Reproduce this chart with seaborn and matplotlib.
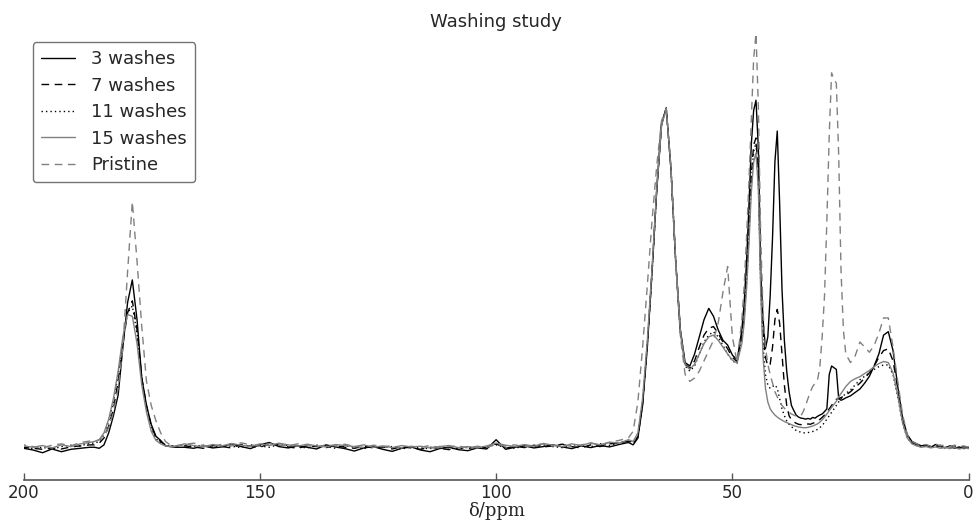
import numpy as np
import pandas as pd
import seaborn as sns
import matplotlib.pyplot as plt

# chemical shift grid (ppm)
ppm = [200, 198, 196, 194, 192, 190, 188, 186,
       185, 184, 183, 182, 181, 180, 179, 178, 177, 176, 175, 174, 173, 172, 171, 170, 169, 168,
       166, 164, 162, 160, 158, 156, 154, 152, 150, 148, 146, 144, 142, 140, 138, 136, 134, 132,
       130, 128, 126, 124, 122, 120, 118, 116, 114, 112, 110, 108, 106, 104, 102, 100, 98, 96,
       94, 92, 90, 88, 86, 84, 82, 80, 78, 76, 74, 72,
       71, 70, 69, 68, 67, 66, 65, 64, 63, 62, 61, 60, 59, 58, 57, 56, 55, 54, 53, 52, 51, 50, 49,
       48, 47.5, 47, 46.5, 46, 45.5, 45, 44.5, 44, 43.5, 43, 42.5, 42, 41.5, 41, 40.5, 40, 39.5,
       39, 38.5, 38, 37.5, 37, 36.5, 36, 35.5, 35, 34.5, 34, 33.5, 33, 32.5, 32, 31.5, 31, 30.5,
       30, 29.5, 29, 28.5, 28, 27.5, 27, 26.5, 26,
       25, 24, 23, 22, 21, 20, 19, 18, 17, 16, 15, 14, 13, 12, 11, 10, 9, 8, 7, 6, 5, 4, 3, 2, 1, 0]

# intensities (arbitrary units, CH2O peak ~ 100)
washes_3 = [0.5, 0.0, -0.8, 0.3, -0.5, 0.2, 0.5, 0.8,
            0.8, 0.5, 1.5, 5.0, 10.0, 16.0, 30.0, 43.0, 49.6, 38.0, 21.0, 13.0, 7.5, 4.0, 2.8, 1.2, 1.0, 0.8,
            0.8, 0.5, 1.2, 0.6, 0.9, 1.8, 1.0, 0.4, 1.5, 2.2, 1.0, 0.6, 1.2, 0.8, 0.3, 1.5, 0.9, 0.4, -0.3, 0.6,
            1.0, 0.2, -0.4, 0.5, 0.9, 0.0, -0.5, 0.4, 0.8, 0.1, -0.2, 0.6, 0.3, 3.0, 0.2, 0.8, 1.2, 0.6, 1.0, 1.5,
            0.9, 0.4, 1.2, 0.7, 1.3, 0.9, 1.6, 2.2,
            1.5, 3.5, 13, 30, 52, 76, 95, 99.8, 82, 55, 35, 25.5, 24.5, 28, 33, 38, 41.3, 39, 35, 32, 30.6, 27.7, 26.2,
            35, 43, 55, 71, 89, 99, 102, 88, 52, 38, 29.6, 33, 45, 62, 84, 93, 72, 47, 32, 23,
            17, 13, 11.5, 10.2, 9.6, 9.3, 9.2, 9.0, 9.2, 9.0, 9.5, 9.3, 9.8, 10.2, 10.5, 11.2, 12.0, 22, 24.5, 24,
            23.5, 15, 14.5, 14.8, 15.2,
            15.8, 16.8, 17.8, 19.5, 21.5, 24.5, 28, 33.5, 34.5, 29, 18.5, 9.5, 4.5, 2.5, 1.8, 1.2, 1.5, 0.8, 1.6, 1.0,
            0.6, 1.2, 0.5, 0.9, 0.4, 0.8]

washes_7 = [0.8, 0.5, 0.2, 0.6, 0.3, 0.9, 1.2, 1.5,
            1.5, 2.0, 3.5, 7.0, 12.0, 20.0, 31.0, 40.0, 43.5, 35.0, 21.0, 13.0, 7.0, 3.8, 2.4, 1.5, 1.2, 1.0,
            1.2, 0.9, 0.5, 1.3, 1.0, 0.6, 1.6, 1.1, 0.8, 1.8, 1.4, 0.9, 0.5, 1.2, 1.0, 0.7, 1.3, 0.8, 0.5, 1.1,
            0.6, 0.9, 0.3, 1.0, 0.6, 0.2, 0.8, 0.5, 0.1, 0.7, 0.4, 1.0, 0.6, 1.8, 0.5, 1.1, 0.7, 1.4, 0.9, 1.2,
            1.7, 1.0, 0.6, 1.5, 1.0, 1.8, 2.0, 2.6,
            1.8, 3.8, 13.5, 30.5, 52, 76, 95, 99.6, 82, 55, 34.5, 25, 23.8, 26, 30, 33.5, 35.5, 36, 34, 31.5, 29.5, 27, 25.8,
            33, 40, 50, 64, 80, 89, 91, 80, 50, 34, 27, 24.5, 25, 30, 38, 41, 37, 28, 19, 13,
            10, 8.8, 8.2, 7.8, 7.5, 7.4, 7.3, 7.4, 7.6, 7.5, 7.8, 8.0, 8.4, 8.9, 9.5, 10.2, 11, 12, 13, 14,
            14.8, 15, 15.3, 15.6, 16,
            17, 18.3, 19.5, 21, 22.5, 24.5, 27, 29, 29.5, 26, 18, 9.5, 4.0, 2.2, 1.5, 1.0, 1.3, 1.1, 0.9, 1.4,
            0.8, 1.0, 1.3, 0.7, 1.0, 0.6]

washes_11 = [1.0, 0.4, 0.8, 0.2, 1.0, 1.4, 1.2, 2.0,
             2.0, 2.5, 4.5, 8.5, 14.0, 22.0, 32.0, 40.0, 42.0, 34.0, 21.0, 12.0, 6.5, 3.3, 2.0, 1.5, 1.0, 1.2,
             1.5, 1.0, 1.4, 0.8, 1.3, 1.1, 0.7, 1.5, 1.2, 0.8, 1.6, 1.3, 1.0, 0.6, 1.4, 1.1, 0.5, 1.2, 0.9, 0.4,
             1.1, 0.7, 1.0, 0.3, 0.9, 0.6, 0.4, 1.0, 0.6, 0.3, 0.9, 0.5, 1.1, 1.5, 0.8, 0.5, 1.2, 0.8, 1.5, 1.0,
             0.7, 1.6, 1.2, 0.9, 1.8, 1.3, 2.1, 2.8,
             2.0, 4.2, 14, 31, 52, 76, 94.5, 99.5, 82, 55, 34, 24.5, 23, 24.5, 28, 31.5, 33.5, 34.5, 33, 30.5, 28, 26, 25.2,
             32, 39, 49, 62, 78, 87, 89.5, 78, 48, 30, 22, 19, 18, 18.5, 19, 18, 15, 12, 10, 8.5,
             7.5, 6.8, 6.2, 5.7, 5.4, 5.2, 5.0, 5.0, 5.1, 5.2, 5.4, 5.6, 6.0, 6.5, 7.2, 8.0, 9.0, 10.0, 11.0, 12.0,
             13.0, 14.0, 15.0, 15.8, 16.5,
             17.5, 19, 20.5, 21.5, 22.5, 23.5, 24.3, 24.8, 24.8, 22, 15.5, 8, 3.5, 2, 1.4, 0.9, 1.2, 0.7, 1.0, 0.6,
             0.9, 0.5, 0.8, 0.5, 0.7, 0.5]

washes_15 = [1.2, 0.8, 1.3, 0.6, 1.5, 1.0, 1.8, 2.2,
             2.5, 3.0, 5.0, 9.0, 15.0, 23.0, 33.0, 39.5, 39.0, 31.0, 19.0, 11.0, 5.5, 2.8, 1.8, 1.2, 1.0, 1.0,
             1.8, 1.3, 0.9, 1.6, 1.2, 1.9, 1.4, 1.0, 1.8, 1.3, 2.0, 1.5, 1.1, 1.7, 1.2, 0.9, 1.6, 1.3, 1.0, 1.5,
             0.8, 1.2, 0.7, 1.3, 0.9, 1.1, 0.6, 1.0, 1.3, 0.7, 1.0, 0.6, 1.2, 2.0, 1.4, 1.0, 1.6, 1.1, 1.9, 1.4,
             1.0, 1.8, 1.3, 2.1, 1.5, 2.3, 2.0, 3.0,
             2.5, 5, 15, 32, 53, 76.5, 94.5, 99.5, 82.5, 55.5, 34.5, 24.8, 23.5, 25, 28, 31, 33, 33.5, 32, 30, 28, 26.2, 25.4,
             31, 37, 47, 60, 75, 84, 86.6, 76, 46, 27, 18, 14, 12, 11, 10.2, 9.6, 9.1, 8.7, 8.3, 8.0,
             7.7, 7.4, 7.1, 6.9, 6.7, 6.6, 6.5, 6.5, 6.6, 6.8, 7.0, 7.3, 7.6, 8.1, 8.8, 9.6, 10.5, 11.5, 12.4, 13.3,
             14.2, 15.5, 16.5, 17.5, 18.5,
             20, 20.8, 21.4, 22.3, 23.2, 24.3, 25.2, 25.8, 25.5, 22.5, 16, 8, 3.5, 1.8, 1.2, 0.8, 1.0, 0.6, 0.9, 0.5,
             0.8, 0.4, 0.7, 0.3, 0.6, 0.4]

pristine = [1.5, 1.0, 0.6, 1.4, 1.8, 1.2, 2.2, 2.6,
            2.5, 3.0, 4.0, 6.5, 11.0, 18.0, 30.0, 52.0, 72.4, 55.0, 36.0, 20.0, 13.0, 8.5, 5.0, 2.5, 1.5, 1.2,
            1.6, 2.0, 1.3, 1.0, 1.7, 1.2, 2.1, 1.5, 1.1, 1.9, 1.4, 1.2, 1.8, 1.3, 0.9, 1.5, 1.2, 1.7, 1.0, 0.8,
            1.4, 1.0, 1.2, 0.6, 1.1, 0.8, 1.3, 0.7, 1.0, 1.2, 0.6, 1.1, 0.8, 1.6, 1.2, 1.5, 0.9, 1.4, 1.8, 1.2,
            1.6, 1.0, 1.5, 2.0, 1.4, 2.2, 2.8, 3.5,
            5.5, 14, 30, 48, 67, 83, 96, 99.6, 82, 55, 33, 22, 20, 21, 23, 26, 29, 32, 37, 46, 53.5, 33, 25.5,
            38, 48, 62, 78, 96, 114, 121.5, 100, 62, 40, 30, 25, 22, 19.5, 17, 15.5, 14, 13, 12.2, 11.5,
            11, 10.5, 10.2, 9.9, 9.7, 10, 11.2, 13, 15, 17, 18.5, 19.5, 20.3, 24, 33, 45, 67, 92, 110, 108,
            107, 86, 52, 35, 28,
            25.5, 27.5, 31.5, 30, 28.5, 30.5, 34, 38.5, 38.5, 30, 20, 10.5, 4.5, 2.5, 1.8, 1.3, 1.6, 1.1, 1.8, 1.2,
            1.5, 0.9, 1.4, 1.0, 1.2, 0.8]

labels = ['3 washes', '7 washes', '11 washes', '15 washes', 'Pristine']
colors = ['black', 'black', 'black', '0.5', '0.5']
styles = ['-', '--', ':', '-', '--']

sns.set_theme(style='white')
plt.rcParams['font.family'] = ['DejaVu Sans']
plt.rcParams['lines.scale_dashes'] = False
plt.rcParams['lines.dashed_pattern'] = [5.5, 4.0]
plt.rcParams['lines.dotted_pattern'] = [1.0, 2.2]

fig = plt.figure(figsize=(9.73, 5.23), dpi=100)
ax = fig.add_axes([0.0243, 0.0822, 0.9712, 0.8547])

for lab, vals, col, ls in zip(labels, [washes_3, washes_7, washes_11, washes_15, pristine], colors, styles):
    sns.lineplot(x=ppm, y=vals, ax=ax, color=col, linestyle=ls, lw=1.0, label=lab)

ax.set_xlim(200, 0)
ax.set_ylim(-8.75, 121.6)
ax.set_yticks([])
ax.set_xticks([200, 150, 100, 50, 0])
for s in ['left', 'right', 'top']:
    ax.spines[s].set_visible(False)
ax.spines['bottom'].set_color('#555555')
ax.spines['bottom'].set_linewidth(1.2)
ax.tick_params(axis='x', direction='in', length=5, width=1, colors='#555555',
               labelcolor='#262626', labelsize=12, pad=3, bottom=True)

ax.set_xlabel('δ/ppm', fontsize=13, family='DejaVu Serif', labelpad=0, color='#262626')
ax.set_ylabel('')
ax.set_title('Washing study', fontsize=13, color='#262626', y=1.013, pad=0)

ax.legend(loc='upper left', fontsize=13, handlelength=1.9, handletextpad=0.9,
          borderpad=0.45, labelspacing=0.47, frameon=True, fancybox=True,
          edgecolor='0.45', framealpha=1)

fig.savefig('out.png', dpi=100)
